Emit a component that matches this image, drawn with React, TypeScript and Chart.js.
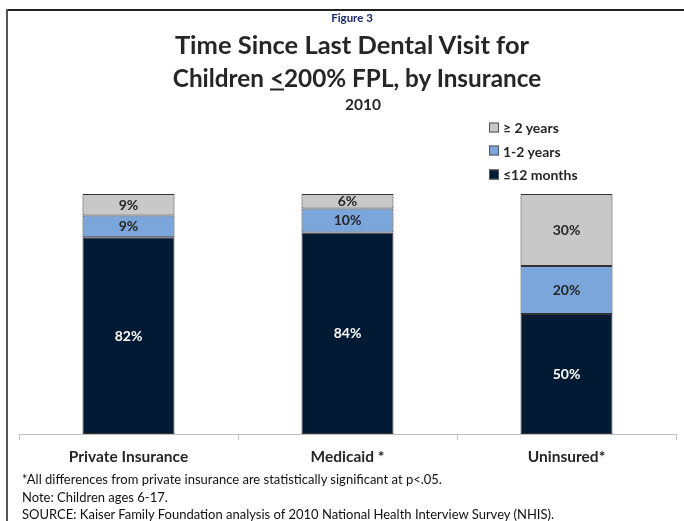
import React, { useEffect, useRef } from "react";
import { Chart, registerables } from "chart.js";

Chart.register(...registerables);

const categories = ["Private Insurance", "Medicaid *", "Uninsured*"];
const within12Months = [82, 84, 50];
const oneToTwoYears = [9, 10, 20];
const twoPlusYears = [9, 6, 30];
const seriesNames = ["≤12 months", "1-2 years", "≥ 2 years"];
const seriesColors = ["#021a33", "#7aa6dc", "#c8c8c8"];
const legendOrder = [2, 1, 0];

const FONT = "Lato, 'Open Sans', sans-serif";

const labelPlugin = {
  id: "segLabels",
  afterDatasetsDraw(chart: any) {
    const ctx = chart.ctx;
    ctx.save();
    ctx.font = `bold 14px ${FONT}`;
    ctx.textAlign = "center";
    ctx.textBaseline = "middle";
    chart.data.datasets.forEach((ds: any, di: number) => {
      const meta = chart.getDatasetMeta(di);
      meta.data.forEach((el: any, i: number) => {
        const { x, y, base } = el.getProps(["x", "y", "base"], true);
        ctx.fillStyle = di === 0 ? "#ffffff" : "#262626";
        ctx.fillText(ds.data[i] + "%", x, (y + base) / 2 + 0.5);
      });
    });
    ctx.restore();
  },
};

export default function App() {
  const ref = useRef<HTMLCanvasElement>(null);
  useEffect(() => {
    if (!ref.current) return;
    const seriesData = [within12Months, oneToTwoYears, twoPlusYears];
    const chart = new Chart(ref.current, {
      type: "bar",
      data: {
        labels: categories,
        datasets: seriesData.map((d, i) => ({
          label: seriesNames[i],
          data: d,
          backgroundColor: seriesColors[i],
          borderColor: "#333333",
          borderWidth: 1,
          borderSkipped: false,
          barPercentage: 0.84,
          categoryPercentage: 0.5,
        })),
      },
      options: {
        responsive: false,
        animation: false,
        devicePixelRatio: 1,
        layout: { padding: { left: 19, right: 8, top: 194, bottom: 0 } },
        plugins: {
          legend: { display: false },
          tooltip: { enabled: false },
          title: { display: false },
        },
        scales: {
          x: {
            stacked: true,
            grid: {
              offset: true,
              drawOnChartArea: false,
              drawTicks: true,
              tickLength: 6,
              color: "#bfbfbf",
            },
            border: { color: "#bfbfbf", width: 1 },
            ticks: {
              color: "#262626",
              font: { family: FONT, size: 15.5, weight: "bold" },
              padding: 8,
            },
            afterFit: (scale: any) => {
              scale.height = 87;
            },
          },
          y: {
            stacked: true,
            display: false,
            min: 0,
            max: 100,
          },
        },
      },
      plugins: [labelPlugin],
    });
    return () => chart.destroy();
  }, []);

  const txt: React.CSSProperties = {
    position: "absolute",
    fontFamily: FONT,
    fontWeight: "bold",
    color: "#262626",
    whiteSpace: "nowrap",
  };

  return (
    <div style={{ position: "absolute", left: 0, top: 0, width: 684, height: 521, background: "#fff", overflow: "hidden", margin: 0 }}>
      <canvas ref={ref} width={684} height={521} style={{ position: "absolute", left: 0, top: 0, width: 684, height: 521 }} />
      <div style={{ position: "absolute", left: 6, top: 9, width: 678, height: 2, background: "#222" }} />
      <div style={{ position: "absolute", left: 6, top: 9, width: 2, height: 512, background: "#555" }} />
      <div style={{ ...txt, left: 352, top: 17, transform: "translate(-50%,-50%)", fontSize: 11.5, color: "#1f2a6b" }}>Figure 3</div>
      <div style={{ ...txt, left: 352, top: 44, transform: "translate(-50%,-50%)", fontSize: 25.5 }}>Time Since Last Dental Visit for</div>
      <div style={{ ...txt, left: 357, top: 77, transform: "translate(-50%,-50%)", fontSize: 24.3 }}>
        Children <u>&lt;</u>200% FPL, by Insurance
      </div>
      <div style={{ ...txt, left: 363, top: 104, transform: "translate(-50%,-50%)", fontSize: 15.5 }}>2010</div>
      {legendOrder.map((si, k) => (
        <div key={si} style={{ ...txt, left: 489, top: 127 + k * 23.5, transform: "translateY(-50%)", fontSize: 14, display: "flex", alignItems: "center" }}>
          <span style={{ display: "inline-block", width: 8, height: 8, background: seriesColors[si], border: "1px solid #555", marginRight: 4 }} />
          {seriesNames[si]}
        </div>
      ))}
      <div style={{ ...txt, fontWeight: "normal", left: 22, top: 479, transform: "translateY(-50%)", fontSize: 13, color: "#111" }}>
        *All differences from private insurance are statistically significant at p&lt;.05.
      </div>
      <div style={{ ...txt, fontWeight: "normal", left: 22, top: 497, transform: "translateY(-50%)", fontSize: 13, color: "#111" }}>
        Note: Children ages  6-17.
      </div>
      <div style={{ ...txt, fontWeight: "normal", left: 22, top: 514, transform: "translateY(-50%)", fontSize: 13, color: "#111" }}>
        SOURCE: Kaiser Family Foundation analysis of 2010 National Health Interview Survey (NHIS).
      </div>
    </div>
  );
}
